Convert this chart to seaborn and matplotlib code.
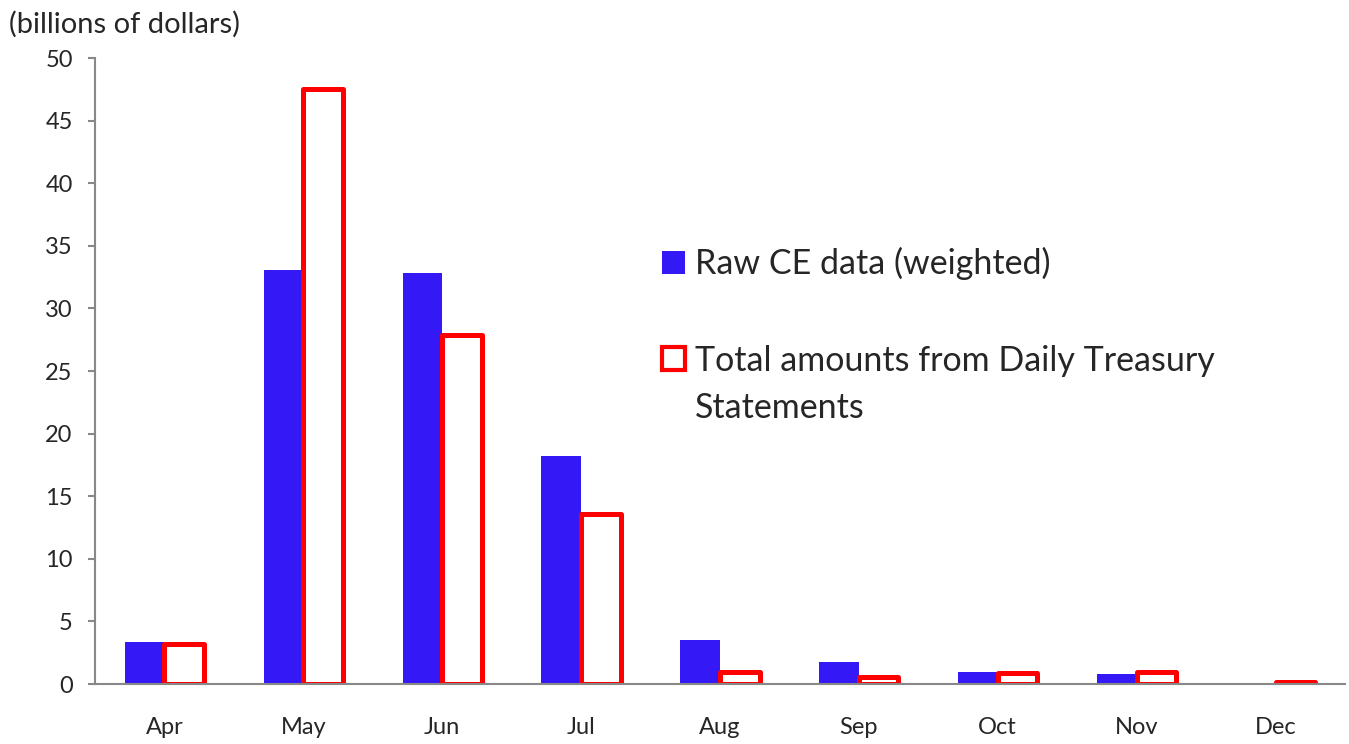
import pandas as pd
import seaborn as sns
import matplotlib.pyplot as plt
from matplotlib.patches import Patch, Rectangle
from matplotlib.legend_handler import HandlerPatch

months = ["Apr", "May", "Jun", "Jul", "Aug", "Sep", "Oct", "Nov", "Dec"]
raw_ce = [3.35, 33.1, 32.8, 18.2, 3.55, 1.75, 0.95, 0.8, 0.0]
treasury = [3.2, 47.5, 27.9, 13.6, 1.0, 0.6, 0.9, 1.0, 0.2]

s1 = "Raw CE data (weighted)"
s2 = "Total amounts from Daily Treasury\nStatements"

df = pd.DataFrame({
    "Month": months * 2,
    "Value": raw_ce + treasury,
    "Series": [s1] * len(months) + [s2] * len(months),
})

sns.set_style("white")
plt.rcParams["font.family"] = ["Lato", "DejaVu Sans"]

blue = "#3418F6"
red = "#FF0000"
gray = "#888888"

fig = plt.figure(figsize=(13.49, 7.44), dpi=100)
ax = fig.add_axes([0.0704, 0.0806, 0.9266, 0.8414])

sns.barplot(data=df, x="Month", y="Value", hue="Series", order=months,
            palette=[blue, "white"], width=0.57, ax=ax, legend=False,
            saturation=1)

for bar in ax.containers[1]:
    bar.set_facecolor("white")
    bar.set_edgecolor(red)
    bar.set_linewidth(3.6)
    bar.set_joinstyle("round")
for bar in ax.containers[0]:
    bar.set_edgecolor("none")

ax.set_xlim(-0.5, 8.5)
ax.set_ylim(0, 50)
ax.set_yticks(range(0, 51, 5))
ax.set_xticks(range(len(months)))
ax.set_xticks([i - 0.5 for i in range(len(months) + 1)], minor=True)
ax.tick_params(axis="x", which="major", length=0, pad=24, labelsize=17)
ax.tick_params(axis="x", which="minor", length=8, width=1.5, color=gray, direction="out")
ax.tick_params(axis="y", length=5, width=1.5, color=gray, pad=11, labelsize=17, left=True)
ax.set_xlabel("")
ax.set_ylabel("")

for side in ["top", "right"]:
    ax.spines[side].set_visible(False)
for side in ["left", "bottom"]:
    ax.spines[side].set_color(gray)
    ax.spines[side].set_linewidth(1.5)

fig.text(0.007, 0.967, "(billions of dollars)", fontsize=21, va="center", ha="left")


# put the square of a two-line label next to its first line
def first_line_patch(legend, orig_handle, xdescent, ydescent, width, height, fontsize):
    return Rectangle((-xdescent, -ydescent + 0.8 * fontsize), width, height)


handles = [Patch(facecolor=blue, edgecolor="none"),
           Patch(facecolor="white", edgecolor=red, linewidth=3)]
leg = ax.legend(handles, [s1, s2], loc="upper left", bbox_to_anchor=(0.491, 0.668),
                bbox_transform=fig.transFigure, frameon=False, fontsize=24.5,
                handlelength=0.66, handleheight=0.66, handletextpad=0.3,
                labelspacing=1.9, borderpad=0, borderaxespad=0,
                handler_map={handles[1]: HandlerPatch(patch_func=first_line_patch)})
for t in leg.get_texts():
    t.set_linespacing(1.6)

fig.savefig("out.png", dpi=100)
